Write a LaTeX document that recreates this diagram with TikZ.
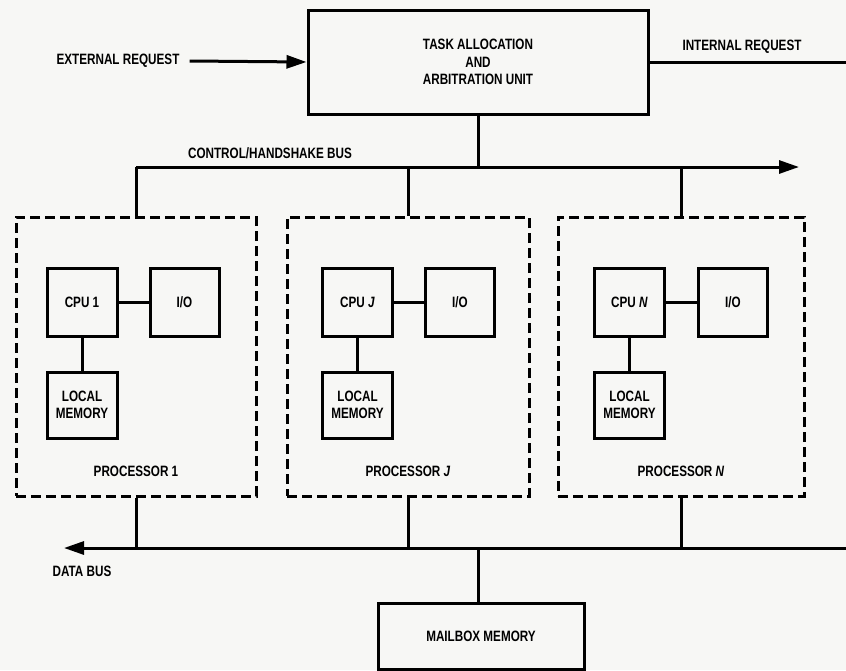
\documentclass[tikz,border=0pt]{standalone}
\usepackage{fontspec}
\setmainfont{Liberation Sans}[FakeStretch=0.78]
\usetikzlibrary{arrows.meta}
\definecolor{bg}{RGB}{247,247,245}
\begin{document}
\begin{tikzpicture}[x=1pt,y=-1pt,
  wire/.style={line width=3pt},
  arr/.style={wire,-{Triangle[length=20pt,width=13pt]}},
  box/.style={draw,line width=3pt,rectangle,inner sep=0pt,align=center,
    font=\fontsize{15}{16.5}\selectfont\bfseries},
  proc/.style={draw,line width=3pt,dash pattern=on 10pt off 5pt,rectangle,inner sep=0pt},
  lbl/.style={inner sep=0pt,align=center,font=\fontsize{15}{16.5}\selectfont\bfseries}
]
\useasboundingbox[fill=bg] (0,0) rectangle (846,670);

% task allocation unit
\node[box,minimum width=340pt,minimum height=104pt,font=\fontsize{15}{17.5}\selectfont\bfseries] (task) at (478,62)
  {TASK ALLOCATION\\AND\\ARBITRATION UNIT};
\node[lbl] (ext) at (118,61) {EXTERNAL REQUEST};
\node[lbl] (intl) at (742,47) {INTERNAL REQUEST};
\coordinate (intend) at (846,62);
\path (ext.east) ++(10pt,0) coordinate (extstart);
\draw[arr] (extstart) -- (task.west);
\draw[wire] (task.east) -- (intend);

% processors
\foreach \n/\cx/\w/\cpu/\io/\lab in {1/136/240/82/184.5/1, J/408/242/357.5/460/\textit{J}, N/681/246/629.5/733/\textit{N}}{
  \node[proc,minimum width=\w pt,minimum height=279pt] (p\n) at (\cx,356.5) {};
  \node[box,minimum width=70pt,minimum height=68pt] (c\n) at (\cpu,302) {CPU \lab};
  \node[box,minimum width=69pt,minimum height=68pt] (i\n) at (\io,302) {I/O};
  \node[box,minimum width=70pt,minimum height=66pt] (m\n) at (\cpu,405) {LOCAL\\MEMORY};
  \node[lbl] (t\n) at (\cx,471) {PROCESSOR \lab};
  \draw[wire] (c\n.east) -- (i\n.west);
  \draw[wire] (c\n.south) -- (m\n.north);
}

% control / handshake bus
\coordinate (cbL) at (136,167);
\coordinate (cbR) at (799,167);
\draw[arr] (cbL) -- (cbR);
\node[lbl] (cbl) at (270,153) {CONTROL/HANDSHAKE BUS};
\draw[wire] (task.south) -- (task.south |- cbL);
\foreach \n in {1,J,N}{
  \draw[wire] (p\n.north |- cbL) -- (p\n.north);
}

% data bus
\coordinate (dbR) at (846,548);
\coordinate (dbL) at (64,548);
\draw[arr] (dbR) -- (dbL);
\node[lbl] (dbl) at (82,571) {DATA BUS};
\foreach \n in {1,J,N}{
  \draw[wire] (p\n.south) -- (p\n.south |- dbR);
}

% mailbox memory
\node[box,minimum width=206pt,minimum height=66pt] (mail) at (481,636) {MAILBOX MEMORY};
\draw[wire] (mail.north -| task.south) -- (task.south |- dbR);
\end{tikzpicture}
\end{document}
